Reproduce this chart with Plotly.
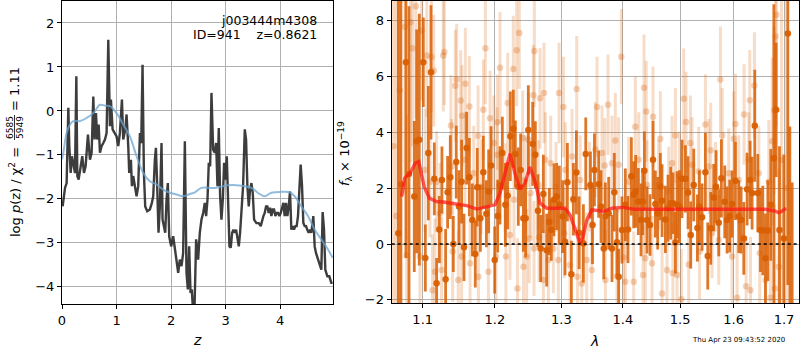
import plotly.graph_objects as go

# ---------------- left panel: log p(z) ----------------
z_grid = [0.012, 0.055, 0.085, 0.116, 0.134, 0.159, 0.183, 0.208, 0.238, 0.263,
          0.281, 0.305, 0.342, 0.372, 0.403, 0.433, 0.476, 0.513, 0.543, 0.574,
          0.598, 0.623, 0.647, 0.672, 0.696, 0.726, 0.757, 0.788, 0.818, 0.849,
          0.879, 0.897, 0.928, 0.971, 1.001, 1.032, 1.062, 1.099, 1.123, 1.160,
          1.184, 1.215, 1.233, 1.264, 1.282, 1.306, 1.337, 1.368, 1.398, 1.429,
          1.453, 1.477, 1.502, 1.526, 1.563, 1.612, 1.648, 1.673, 1.703, 1.722,
          1.746, 1.770, 1.795, 1.825, 1.844, 1.868, 1.893, 1.917, 1.941, 1.966,
          2.002, 2.039, 2.070, 2.100, 2.131, 2.161, 2.192, 2.222, 2.253, 2.283,
          2.308, 2.332, 2.357, 2.381, 2.405, 2.430, 2.460, 2.497, 2.527, 2.558,
          2.589, 2.619, 2.643, 2.668, 2.692, 2.717, 2.741, 2.772, 2.802, 2.827,
          2.851, 2.875, 2.900, 2.924, 2.949, 2.973, 2.998, 3.022, 3.046, 3.071,
          3.095, 3.120, 3.144, 3.168, 3.193, 3.217, 3.242, 3.266, 3.291, 3.321,
          3.352, 3.376, 3.400, 3.425, 3.449, 3.474, 3.498, 3.523, 3.565, 3.608,
          3.645, 3.669, 3.694, 3.718, 3.742, 3.767, 3.791, 3.816, 3.840, 3.865,
          3.889, 3.913, 3.938, 3.962, 3.987, 4.011, 4.035, 4.060, 4.084, 4.109,
          4.133, 4.158, 4.182, 4.206, 4.231, 4.255, 4.280, 4.304, 4.328, 4.353,
          4.377, 4.402, 4.426, 4.451, 4.475, 4.499, 4.524, 4.548, 4.573, 4.609,
          4.634, 4.658, 4.695, 4.731, 4.756, 4.780, 4.805, 4.829, 4.866, 4.902,
          4.939, 4.963]
log_pz = [-2.17, -1.75, -1.64, 0.07, -0.80, -1.41, -1.03, -1.18, -1.41, 0.79,
          -1.48, -1.56, -1.26, -1.03, -1.41, -1.26, -0.54, -1.11, -0.95, 0.33,
          -0.65, -0.05, -0.65, -0.31, -0.95, -0.80, -0.73, -0.65, -0.50, 1.62,
          -0.35, 0.26, -0.42, -0.50, -0.58, -0.80, -0.50, 0.26, -0.65, -0.42,
          -0.08, -0.80, -1.41, -1.11, -1.71, -1.48, -1.71, -1.94, -1.71, -0.50,
          -0.73, 1.05, -1.41, -2.17, -2.28, -2.24, -2.09, -1.94, -1.11, -0.84,
          -1.71, -2.77, -2.17, -0.73, -2.47, -2.62, -2.77, -2.02, -1.64, -2.85,
          -3.08, -2.85, -3.15, -3.45, -3.68, -3.38, -3.53, -3.23, -0.69, -3.68,
          -4.06, -3.08, -4.14, -4.06, -4.60, -4.50, -2.92, -3.38, -2.77, -2.47,
          -2.32, -2.09, -2.39, -2.02, -1.18, -1.26, 0.41, -0.88, -0.95, -0.73,
          -1.71, -0.39, -1.94, -2.47, -2.02, -1.18, -1.56, -1.03, -2.17, -3.08,
          -3.11, -2.77, -2.70, -2.77, -2.70, -2.92, -3.08, -2.77, -2.32, -1.71,
          -0.42, -0.65, -1.71, -2.17, -1.79, -1.64, -1.86, -2.47, -2.55, -2.55,
          -2.62, -2.47, -2.39, -2.32, -2.17, -2.17, -2.32, -2.20, -2.39, -2.24,
          -2.24, -2.39, -2.32, -2.32, -2.39, -2.32, -2.17, -2.09, -2.39, -2.09,
          -2.39, -2.17, -1.83, -2.70, -2.62, -2.70, -2.62, -2.62, -2.39, -1.79,
          -1.22, -1.71, -2.55, -2.62, -2.62, -2.70, -2.77, -2.70, -2.77, -2.39,
          -3.08, -3.23, -3.38, -3.53, -3.61, -2.30, -2.70, -3.61, -3.76, -3.76,
          -3.91, -3.91]

# smoothed curve drawn over the noisy p(z)
z_smooth = [0.0, 0.024, 0.085, 0.147, 0.208, 0.330, 0.452, 0.574, 0.696, 0.788,
            0.879, 1.001, 1.123, 1.245, 1.368, 1.490, 1.612, 1.734, 1.856, 1.978,
            2.100, 2.222, 2.344, 2.436, 2.558, 2.802, 3.046, 3.291, 3.474, 3.590,
            3.718, 3.840, 4.023, 4.176, 4.267, 4.389, 4.511, 4.634, 4.756, 4.878,
            4.963]
logp_smooth = [-1.10, -0.95, -0.50, -0.31, -0.23, -0.23, -0.16, -0.05, 0.14, 0.12,
               0.11, -0.05, -0.31, -0.58, -1.03, -1.41, -1.60, -1.67, -1.79, -1.86,
               -1.90, -1.94, -1.89, -1.85, -1.75, -1.75, -1.69, -1.70, -1.75, -1.86,
               -1.94, -1.86, -1.84, -1.85, -1.94, -2.17, -2.39, -2.70, -2.92, -3.15,
               -3.34]

# ---------------- right panel: spectrum ----------------
wave_a = [1.0682, 1.0715, 1.0780, 1.0820, 1.0889, 1.0920, 1.0955, 1.1008, 1.1035, 1.1075,
          1.1110, 1.1155, 1.1186, 1.1222, 1.1258, 1.1308, 1.1335, 1.1372, 1.1413, 1.1454,
          1.1491, 1.1528, 1.1561, 1.1598, 1.1636, 1.1678, 1.1720, 1.1748, 1.1791, 1.1834,
          1.1877, 1.1910, 1.1944, 1.1997, 1.2040, 1.2074, 1.2108, 1.2152, 1.2186, 1.2225,
          1.2269, 1.2299, 1.2343, 1.2378, 1.2418, 1.2453, 1.2493, 1.2559, 1.2599, 1.2639,
          1.2680, 1.2721, 1.2772, 1.2813, 1.2844, 1.2885, 1.2927, 1.2969, 1.3021, 1.3058,
          1.3095, 1.3158, 1.3190, 1.3238, 1.3281, 1.3350, 1.3388, 1.3464, 1.3497, 1.3529,
          1.3598, 1.3637, 1.3681, 1.3708, 1.3763, 1.3818, 1.3857, 1.3901, 1.3929, 1.3985,
          1.4042, 1.4087, 1.4144, 1.4184, 1.4218, 1.4264, 1.4310, 1.4339, 1.4368, 1.4414,
          1.4466, 1.4518, 1.4559, 1.4600, 1.4647, 1.4677, 1.4736, 1.4783, 1.4831, 1.4873,
          1.4915, 1.4945, 1.4987, 1.5035, 1.5096, 1.5144, 1.5193, 1.5248, 1.5316, 1.5353,
          1.5402, 1.5464, 1.5508, 1.5564, 1.5620, 1.5664, 1.5715, 1.5765, 1.5829, 1.5873,
          1.5924, 1.5969, 1.6034, 1.6098, 1.6144, 1.6196, 1.6261, 1.6320, 1.6359, 1.6412,
          1.6472, 1.6525, 1.6571, 1.6625, 1.6672, 1.6732, 1.6793, 1.6840, 1.6908, 1.6997,
          1.7079, 1.7120, 1.7168]
flux_a = [0.38, 2.14, 6.50, 2.50, 1.70, 3.67, 3.73, 6.50, -0.50, 3.25,
          6.14, 2.33, -1.40, 0.52, 2.29, -1.26, 1.85, 2.39, 0.00, 2.93,
          1.34, 2.23, -0.12, 3.43, 2.39, 0.86, -0.36, 2.03, 0.92, 2.57,
          1.08, 1.88, 2.81, -0.57, 1.00, 2.10, 3.25, 1.40, 1.73, 3.85,
          4.12, 3.22, 2.05, 2.65, 0.92, 0.92, 4.08, 3.58, 3.19, 1.19,
          -0.16, 1.79, -0.22, 0.80, 0.50, 1.58, 1.70, 1.40, 0.98, 0.08,
          2.21, -1.08, 1.60, 2.56, 0.40, 0.02, 3.22, 2.11, 0.68, 2.65,
          2.14, 1.34, -0.16, 1.00, 1.10, -0.16, 1.85, 0.06, -1.17, 0.50,
          1.40, 0.52, 2.42, 1.76, 1.88, 1.52, 0.86, 1.52, 2.62, 0.86,
          0.68, 3.01, 1.43, 1.10, 2.05, 1.55, 0.88, 1.28, 1.46, 1.46,
          0.05, 1.40, 1.34, 2.33, 2.33, 1.84, 0.32, 2.11, 0.57, 1.34,
          0.96, 2.57, -0.43, 0.56, 1.66, 2.05, 0.76, 2.35, 1.51, 0.86,
          1.00, 1.43, 2.26, 0.98, 0.86, 0.20, 1.96, 2.29, 1.82, 4.23,
          1.82, 0.50, 0.48, -0.51, 0.48, 1.40, 3.07, 4.80, 0.50, 0.20,
          7.53, -2.50, -3.00]
err_a = [9.0, 8.0, 7.0, 6.0, 2.7, 4.0, 4.5, 1.6, 1.2, 2.4,
         2.4, 1.3, 0.9, 1.2, 1.2, 1.8, 1.3, 1.5, 1.0, 1.3,
         1.3, 1.5, 1.2, 1.3, 1.4, 1.3, 1.2, 1.4, 1.2, 1.3,
         1.2, 1.5, 1.4, 1.2, 1.3, 1.4, 1.3, 1.5, 1.2, 1.6,
         1.4, 1.2, 1.4, 1.3, 1.2, 1.4, 1.6, 1.5, 1.2, 1.3,
         1.2, 1.4, 1.3, 1.2, 1.1, 1.3, 1.2, 1.4, 1.3, 1.2,
         1.4, 1.2, 1.3, 1.5, 1.3, 1.4, 1.3, 1.2, 1.4, 1.3,
         1.2, 1.3, 1.1, 1.2, 1.3, 1.2, 1.4, 1.2, 1.0, 1.2,
         1.3, 1.2, 1.4, 1.2, 1.3, 1.2, 1.3, 1.2, 1.4, 1.2,
         1.1, 1.4, 1.2, 1.3, 1.2, 1.3, 1.2, 1.2, 1.3, 1.1,
         1.1, 1.2, 1.3, 1.4, 1.2, 1.3, 1.2, 1.3, 1.2, 1.3,
         1.2, 1.4, 1.2, 1.3, 1.2, 1.3, 1.2, 1.4, 1.3, 1.2,
         1.3, 1.2, 1.4, 1.3, 1.2, 1.3, 1.3, 1.4, 1.3, 2.0,
         1.4, 1.5, 1.6, 1.6, 1.8, 2.0, 5.5, 2.4, 3.0, 3.0,
         9.0, 6.7, 5.2]

wave_b = [1.0620, 1.0655, 1.0700, 1.0768, 1.0789, 1.0840, 1.0866, 1.0909, 1.0964, 1.0986,
          1.1031, 1.1055, 1.1097, 1.1117, 1.1130, 1.1148, 1.1163, 1.1186, 1.1231, 1.1253,
          1.1276, 1.1290, 1.1381, 1.1390, 1.1404, 1.1441, 1.1459, 1.1482, 1.1515, 1.1528,
          1.1533, 1.1575, 1.1580, 1.1636, 1.1646, 1.1697, 1.1759, 1.1764, 1.1805, 1.1834,
          1.1863, 1.1906, 1.1930, 1.1983, 1.2016, 1.2031, 1.2036, 1.2074, 1.2148, 1.2160,
          1.2186, 1.2219, 1.2269, 1.2279, 1.2318, 1.2330, 1.2358, 1.2408, 1.2420, 1.2443,
          1.2468, 1.2493, 1.2508, 1.2528, 1.2569, 1.2579, 1.2584, 1.2645, 1.2655, 1.2670,
          1.2721, 1.2731, 1.2752, 1.2798, 1.2834, 1.2875, 1.2917, 1.2953, 1.2964, 1.3032,
          1.3045, 1.3063, 1.3136, 1.3169, 1.3243, 1.3255, 1.3297, 1.3323, 1.3404, 1.3448,
          1.3486, 1.3544, 1.3571, 1.3653, 1.3697, 1.3708, 1.3752, 1.3818, 1.3874, 1.3901,
          1.3929, 1.3974, 1.4013, 1.4042, 1.4098, 1.4184, 1.4212, 1.4270, 1.4345, 1.4362,
          1.4385, 1.4400, 1.4414, 1.4501, 1.4518, 1.4617, 1.4647, 1.4677, 1.4765, 1.4795,
          1.4855, 1.4870, 1.4915, 1.4945, 1.4987, 1.5023, 1.5065, 1.5108, 1.5156, 1.5187,
          1.5217, 1.5340, 1.5355, 1.5464, 1.5527, 1.5564, 1.5589, 1.5652, 1.5715, 1.5746,
          1.5780, 1.5905, 1.5969, 1.6002, 1.6034, 1.6066, 1.6098, 1.6202, 1.6242, 1.6294,
          1.6313, 1.6327, 1.6405, 1.6492, 1.6510, 1.6625, 1.6692, 1.6725, 1.6760, 1.6800,
          1.6813, 1.6827, 1.6847, 1.6892, 1.6950, 1.7050]
flux_b = [3.50, 1.00, 5.50, 7.77, -0.40, 7.93, 7.00, 8.50, -0.45, 7.63,
          2.65, 6.74, 2.23, 6.69, -1.65, 6.20, -0.99, 2.23, 1.10, -0.93,
          6.74, 6.87, 4.24, 2.77, -0.27, 5.66, 5.88, -1.29, 5.13, -0.45,
          4.59, 3.01, 5.73, 4.92, -0.69, 2.53, 3.87, -1.17, 2.05, 4.80,
          7.00, -0.99, 4.50, 3.61, -0.45, 3.19, 4.35, 6.30, 2.00, -0.45,
          5.04, 0.32, 6.26, 1.58, 6.93, -1.59, 7.55, 3.79, -0.81, 2.29,
          -0.45, 3.73, 0.20, 1.82, 5.32, -0.16, 6.90, 2.11, 0.24, 5.21,
          -1.29, 5.40, 3.01, -0.57, 2.89, -0.16, 2.05, -0.57, 5.40, 4.90,
          0.38, 2.65, -0.75, 3.13, 5.54, -1.17, 2.29, -1.41, -0.57, 2.05,
          -0.93, 3.38, 4.90, 3.25, 2.81, -1.29, 4.98, 2.89, 3.70, -1.15,
          2.83, 6.70, -0.48, -1.35, 2.23, -1.35, 4.19, 3.01, -1.11, 5.59,
          -0.51, 4.74, 2.11, -0.69, 4.55, 2.11, 3.76, -1.77, -0.93, 1.88,
          2.89, -1.05, 3.88, -1.11, 2.41, -1.98, 5.19, 4.36, -0.73, 3.61,
          2.83, 2.59, -0.27, 4.27, 2.77, 3.35, 0.38, 2.05, 0.14, 5.88,
          3.88, 2.53, -0.45, 3.76, 4.29, -1.92, 2.29, 4.63, -1.51, 3.01,
          5.14, -1.65, 5.67, 2.53, -0.33, -1.29, 2.23, -1.92, 3.67, 4.78,
          -1.59, 7.42, 8.20, -0.81, 3.00, 2.00]
err_b = [9.0, 9.0, 8.0, 6.0, 5.0, 5.0, 3.5, 4.0, 2.5, 2.5,
         2.2, 2.2, 2.0, 2.0, 2.0, 2.0, 1.9, 1.8, 1.8, 1.9,
         2.0, 1.9, 1.8, 1.7, 1.8, 2.0, 2.0, 1.8, 1.8, 1.7,
         1.8, 1.7, 2.0, 1.8, 1.8, 1.7, 1.8, 1.8, 1.7, 1.8,
         2.0, 1.8, 1.7, 1.7, 1.7, 1.7, 1.7, 2.0, 1.6, 1.7,
         1.8, 1.6, 1.9, 1.6, 2.0, 1.8, 2.0, 1.7, 1.7, 1.6,
         1.7, 1.7, 1.6, 1.6, 1.8, 1.7, 2.0, 1.6, 1.6, 1.8,
         1.8, 1.8, 1.7, 1.7, 1.7, 1.6, 1.6, 1.7, 1.8, 1.8,
         1.6, 1.7, 1.7, 1.7, 1.9, 1.8, 1.6, 1.8, 1.7, 1.6,
         1.7, 1.7, 1.8, 1.7, 1.7, 1.8, 1.8, 1.7, 1.7, 1.8,
         1.7, 1.7, 1.7, 1.8, 1.6, 1.8, 1.8, 1.7, 1.8, 1.9,
         1.7, 1.8, 1.6, 1.7, 1.8, 1.6, 1.7, 1.8, 1.7, 1.6,
         1.7, 1.8, 1.7, 1.8, 1.6, 1.8, 1.8, 1.8, 1.7, 1.7,
         1.7, 1.6, 1.7, 1.8, 1.7, 1.7, 1.6, 1.6, 1.6, 1.9,
         1.7, 1.6, 1.7, 1.7, 1.8, 1.9, 1.6, 1.8, 1.8, 1.7,
         1.8, 1.9, 1.9, 1.7, 1.8, 2.0, 2.2, 2.5, 3.0, 3.0,
         3.0, 4.0, 4.0, 3.5, 6.0, 8.0]

# best-fit model spectrum
wave_model = [1.0724, 1.0764, 1.0833, 1.0902, 1.0948, 1.1018, 1.1089, 1.1185, 1.1276, 1.1460,
              1.1600, 1.1741, 1.1884, 1.2000, 1.2074, 1.2146, 1.2219, 1.2293, 1.2368, 1.2443,
              1.2518, 1.2594, 1.2670, 1.2773, 1.2927, 1.3058, 1.3136, 1.3216, 1.3297, 1.3350,
              1.3405, 1.3486, 1.3596, 1.3678, 1.3818, 1.3985, 1.4211, 1.4617, 1.4971, 1.5339,
              1.5714, 1.6097, 1.6623, 1.6792, 1.6892, 1.6973, 1.7041]
flux_model = [1.70, 2.36, 2.53, 2.89, 2.95, 2.06, 1.64, 1.52, 1.50, 1.44,
              1.37, 1.25, 1.34, 1.40, 1.82, 2.53, 3.23, 2.53, 1.96, 2.18,
              2.75, 2.24, 1.46, 1.28, 1.28, 1.28, 1.04, 0.50, 0.02, 0.32,
              0.86, 1.22, 1.19, 1.17, 1.28, 1.31, 1.24, 1.24, 1.25, 1.24,
              1.22, 1.24, 1.24, 1.19, 1.12, 1.19, 1.28]

z_ticks = [0, 1, 2, 3, 4]
lam_ticks = [1.1, 1.2, 1.3, 1.4, 1.5, 1.6, 1.7]
lam_tick_text = ["1.1", "1.2", "1.3", "1.4", "1.5", "1.6", "1.7"]

FONT = "DejaVu Sans"
W, H = 800, 350


def px(x):
    return x / W


def py(y):
    return 1 - y / H


fig = go.Figure()

# p(z) curves
fig.add_trace(go.Scatter(x=z_grid, y=log_pz, mode="lines",
                         line=dict(color="rgba(40,40,40,0.9)", width=2.4),
                         xaxis="x", yaxis="y", showlegend=False))
fig.add_trace(go.Scatter(x=z_smooth, y=logp_smooth, mode="lines", line_shape="spline",
                         line=dict(color="rgba(110,165,210,0.75)", width=2),
                         xaxis="x", yaxis="y", showlegend=False))

# spectrum: fainter second set, then main set
orange = "217,95,2"
fig.add_trace(go.Scatter(x=wave_b, y=flux_b, mode="markers",
                         marker=dict(color=f"rgba({orange},0.28)", size=6.5, line=dict(width=0)),
                         error_y=dict(type="data", array=err_b, color=f"rgba({orange},0.22)",
                                      thickness=3, width=0),
                         xaxis="x2", yaxis="y2", showlegend=False))
fig.add_trace(go.Scatter(x=wave_a, y=flux_a, mode="markers",
                         marker=dict(color=f"rgba({orange},0.95)", size=6.5, line=dict(width=0)),
                         error_y=dict(type="data", array=err_a, color=f"rgba({orange},0.85)",
                                      thickness=2.8, width=0),
                         xaxis="x2", yaxis="y2", showlegend=False))
fig.add_trace(go.Scatter(x=wave_model, y=flux_model, mode="lines",
                         line=dict(color="rgba(255,20,20,0.7)", width=3.4),
                         xaxis="x2", yaxis="y2", showlegend=False))

axis_common = dict(showline=True, mirror=True, linecolor="black", linewidth=1.2,
                   ticks="outside", ticklen=4, tickwidth=1, tickcolor="black",
                   showgrid=True, gridcolor="#b0b0b0", gridwidth=1, zeroline=False,
                   automargin=False,
                   tickfont=dict(family=FONT, size=13, color="black"))

top, bottom_l, bottom_r = py(1), py(304), py(303)
fig.update_layout(
    width=W, height=H, margin=dict(l=0, r=0, t=0, b=0, pad=0, autoexpand=False),
    paper_bgcolor="white", plot_bgcolor="white",
    font=dict(family=FONT, color="black"),
    xaxis=dict(domain=[px(62), px(333)], range=[0, 4.97], tickvals=z_ticks,
               anchor="y", **axis_common),
    yaxis=dict(domain=[bottom_l, top], range=[-4.39, 2.5], dtick=1,
               anchor="x", **axis_common),
    xaxis2=dict(domain=[px(391.7), px(799)], type="log", range=[0.02517, 0.2383],
                tickvals=lam_ticks, ticktext=lam_tick_text, anchor="y2", **axis_common),
    yaxis2=dict(domain=[bottom_r, top], range=[-2.11, 8.69], dtick=2,
                anchor="x2", **axis_common),
)

# zero level in the spectrum panel
fig.add_shape(type="line", xref="x2 domain", yref="y2", x0=0, x1=1, y0=0, y1=0,
              line=dict(color="black", width=1.6, dash="dot"))

ann = []
# object labels
ann.append(dict(text="j003444m4308", x=px(319), y=py(20), xanchor="right", yanchor="middle",
                font=dict(size=12.5)))
ann.append(dict(text="ID=941    z=0.8621", x=px(319), y=py(34), xanchor="right", yanchor="middle",
                font=dict(size=12.5)))
# axis titles
ann.append(dict(text="<i>z</i>", x=px(197), y=py(340), xanchor="center", yanchor="middle",
                font=dict(size=14)))
ann.append(dict(text="<i>λ</i>", x=px(594), y=py(341), xanchor="center", yanchor="middle",
                font=dict(size=14)))
ann.append(dict(text="<i>f</i><sub>λ</sub> × 10<sup>−19</sup>", x=px(345), y=py(154),
                xanchor="center", yanchor="middle", textangle=-90, font=dict(size=13)))
# y title of the p(z) panel, with a stacked fraction
ann.append(dict(text="log <i>p</i>(z) / χ<sup>2</sup> =", x=px(15), y=py(192),
                xanchor="center", yanchor="middle", textangle=-90, font=dict(size=13)))
ann.append(dict(text="6585", x=px(9.5), y=py(127.5), xanchor="center", yanchor="middle",
                textangle=-90, font=dict(size=9)))
ann.append(dict(text="5949", x=px(19.5), y=py(127.5), xanchor="center", yanchor="middle",
                textangle=-90, font=dict(size=9)))
ann.append(dict(text="= 1.11", x=px(15), y=py(89), xanchor="center", yanchor="middle",
                textangle=-90, font=dict(size=13)))
# timestamp
ann.append(dict(text="Thu Apr 23 09:43:52 2020", x=px(787), y=py(340), xanchor="right",
                yanchor="middle", font=dict(size=7)))
for a in ann:
    a.update(xref="paper", yref="paper", showarrow=False)
    a.setdefault("font", {})
    a["font"].setdefault("family", FONT)
    a["font"].setdefault("color", "black")
fig.update_layout(annotations=ann)

# fraction bar
fig.add_shape(type="line", xref="paper", yref="paper", x0=px(14.5), x1=px(14.5),
              y0=py(115), y1=py(140), line=dict(color="black", width=0.8))

fig.write_html("out.html")
